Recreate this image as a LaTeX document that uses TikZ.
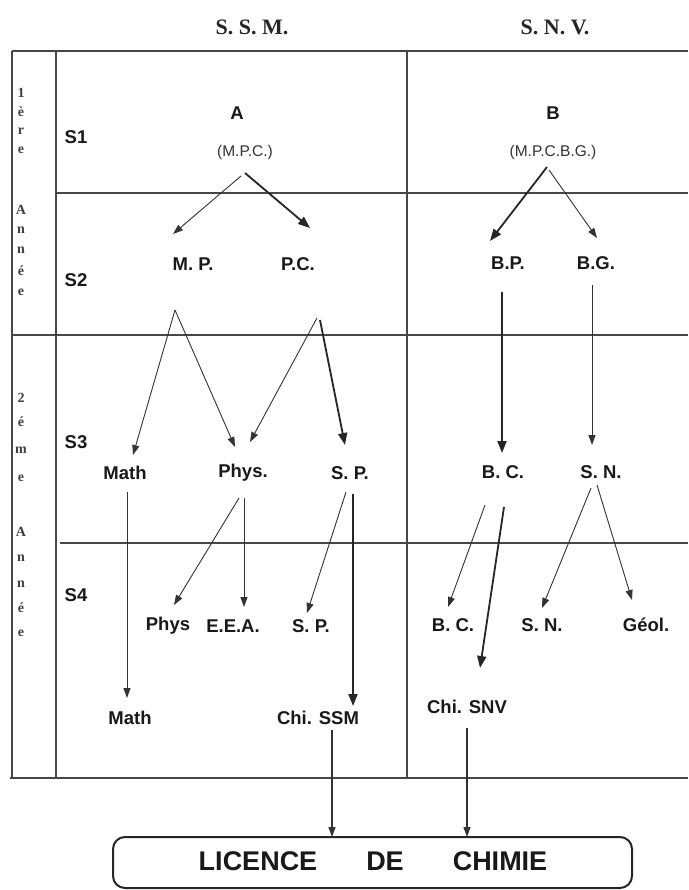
\documentclass[tikz,border=0pt]{standalone}
\usepackage{fontspec}
\setmainfont{Liberation Serif}
\newfontfamily\hv{Liberation Sans}
\usetikzlibrary{arrows.meta}
\begin{document}
\begin{tikzpicture}[x=1pt,y=-1pt,
  gridline/.style={line width=1.1pt, draw=black!72},
  hdr/.style={font=\bfseries\fontsize{22}{24}\selectfont, text=black!85, inner sep=0pt},
  yl/.style={font=\bfseries\fontsize{14}{15}\selectfont, text=black!75, inner sep=0pt},
  lab/.style={font=\hv\bfseries\fontsize{18.5}{20}\selectfont, text=black!90, inner sep=0pt},
  sub/.style={font=\hv\fontsize{15.5}{17}\selectfont, text=black!80, inner sep=0pt},
  big/.style={font=\hv\bfseries\fontsize{27}{30}\selectfont, text=black!90, inner sep=0pt},
  thinarr/.style={line width=0.9pt, draw=black!80, -{Triangle[length=10pt,width=7pt]}},
  thickarr/.style={line width=1.8pt, draw=black!85, -{Triangle[length=12pt,width=9pt]}},
  licbox/.style={draw=black!85, line width=2pt, rounded corners=12pt, minimum width=519pt, minimum height=51pt, inner sep=0pt}
]
\useasboundingbox (0,0) rectangle (688,890);
\fill[white] (0,0) rectangle (688,890);

% table
\draw[gridline] (12,51) -- (688,51);
\draw[gridline] (12,51) -- (12,778);
\draw[gridline] (56,51) -- (56,778);
\draw[gridline] (407,51) -- (407,778);
\draw[gridline] (56,193) -- (688,193);
\draw[gridline] (12,335) -- (688,335);
\draw[gridline] (60,543) -- (688,543);
\draw[gridline] (10,778) -- (688,778);

% headers
\node[hdr] (ssm) at (252,27) {S. S. M.};
\node[hdr] (snv) at (555,27) {S. N. V.};

% year letters
\foreach \t/\y [count=\i] in {1/93, è/112, r/131, e/150, A/210, n/230, n/250, é/271, e/292}
  \node[yl] (ya\i) at (21,\y) {\t};
\foreach \t/\y [count=\i] in {2/398, é/422, m/450, e/478, A/532, n/558, n/584, é/608, e/633}
  \node[yl] (yb\i) at (21,\y) {\t};

% semesters
\node[lab] (s1) at (76,137) {S1};
\node[lab] (s2) at (76,280) {S2};
\node[lab] (s3) at (76,442) {S3};
\node[lab] (s4) at (76,595) {S4};

% S1
\node[lab] (A) at (237,113) {A};
\node[sub] (mpc) at (245,152) {(M.P.C.)};
\node[lab] (B) at (553,113) {B};
\node[sub] (mpcbg) at (553,152) {(M.P.C.B.G.)};

% S2
\node[lab] (mp) at (193,264) {M. P.};
\node[lab] (pc) at (298,264) {P.C.};
\node[lab] (bp) at (508,263) {B.P.};
\node[lab] (bg) at (596,263) {B.G.};

% S3
\node[lab] (math3) at (125,473) {Math};
\node[lab] (phys3) at (243,473) {Phys.};
\node[lab] (sp3) at (350,473) {S. P.};
\node[lab] (bc3) at (503,472) {B. C.};
\node[lab] (sn3) at (601,472) {S. N.};

% S4
\node[lab] (phys4) at (168,626) {Phys};
\node[lab] (eea) at (233,626) {E.E.A.};
\node[lab] (sp4) at (311,626) {S. P.};
\node[lab] (bc4) at (453,625) {B. C.};
\node[lab] (sn4) at (542,625) {S. N.};
\node[lab] (geol) at (646,625) {Géol.};

% final
\node[lab] (math4) at (130,718) {Math};
\node[lab] (chissm) at (318,718) {Chi. SSM};
\node[lab] (chisnv) at (467,707) {Chi. SNV};

% licence box
\node[licbox] (lic) at (372.5,862.5) {};
\node[big] (licT) at (258,861) {LICENCE};
\node[big] (deT) at (385,861) {DE};
\node[big] (chT) at (500,861) {CHIMIE};

% connector coordinates
\coordinate (a1s) at (241,176); \coordinate (a1e) at (173,234);
\coordinate (a2s) at (245,173); \coordinate (a2e) at (310,228);
\coordinate (b1s) at (547,167); \coordinate (b1e) at (490,241);
\coordinate (b2s) at (549,170); \coordinate (b2e) at (597,238);
\coordinate (mpx) at (175,310);
\coordinate (mathin) at (133,455); \coordinate (physinl) at (235,447);
\coordinate (pcx) at (317,318); \coordinate (pcx2) at (320,320);
\coordinate (physinr) at (250,442); \coordinate (spin) at (345,445);
\coordinate (bpout) at (502,292); \coordinate (bcin) at (502,453);
\coordinate (bgout) at (592,285); \coordinate (snin) at (592,445);
\coordinate (m3out) at (127,492); \coordinate (m4in) at (127,698);
\coordinate (p3outa) at (239,498); \coordinate (p4in) at (174,605);
\coordinate (p3outb) at (244,498); \coordinate (eein) at (244,607);
\coordinate (sp3outa) at (346,492); \coordinate (sp4in) at (307,613);
\coordinate (sp3outb) at (353,494); \coordinate (chissmin) at (353,706);
\coordinate (bc3outa) at (485,505); \coordinate (bc4in) at (448,607);
\coordinate (bc3outb) at (504,507); \coordinate (chisnvin) at (480,668);
\coordinate (sn3outa) at (591,488); \coordinate (sn4in) at (542,608);
\coordinate (sn3outb) at (597,485); \coordinate (geolin) at (632,600);
\coordinate (chissmout) at (332,730); \coordinate (licinl) at (332,837);
\coordinate (chisnvout) at (467,728); \coordinate (licinr) at (467,837);

% connectors
\draw[thinarr] (a1s) -- (a1e);
\draw[thickarr] (a2s) -- (a2e);
\draw[thickarr] (b1s) -- (b1e);
\draw[thinarr] (b2s) -- (b2e);
\draw[thinarr] (mpx) -- (mathin);
\draw[thinarr] (mpx) -- (physinl);
\draw[thinarr] (pcx) -- (physinr);
\draw[thickarr] (pcx2) -- (spin);
\draw[thickarr] (bpout) -- (bcin);
\draw[thinarr] (bgout) -- (snin);
\draw[thinarr] (m3out) -- (m4in);
\draw[thinarr] (p3outa) -- (p4in);
\draw[thinarr] (p3outb) -- (eein);
\draw[thinarr] (sp3outa) -- (sp4in);
\draw[thickarr] (sp3outb) -- (chissmin);
\draw[thinarr] (bc3outa) -- (bc4in);
\draw[thickarr] (bc3outb) -- (chisnvin);
\draw[thinarr] (sn3outa) -- (sn4in);
\draw[thinarr] (sn3outb) -- (geolin);
\draw[thinarr, line width=1.3pt] (chissmout) -- (licinl);
\draw[thinarr, line width=1.3pt] (chisnvout) -- (licinr);
\end{tikzpicture}
\end{document}
